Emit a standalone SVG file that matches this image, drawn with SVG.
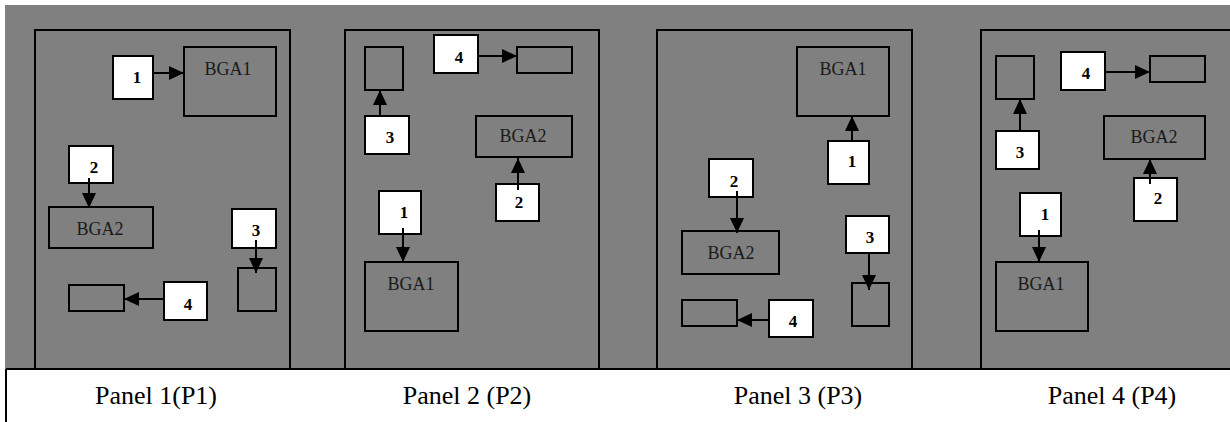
<svg xmlns="http://www.w3.org/2000/svg" width="1230" height="422" viewBox="0 0 1230 422">
<style>
.bg{fill:#808080}
.frame{fill:none;stroke:#000;stroke-width:2}
.comp{fill:none;stroke:#000;stroke-width:2}
.tag{fill:#fff;stroke:#000;stroke-width:2}
.bga{font-family:"Liberation Serif","Times New Roman",serif;font-size:18px;fill:#1a1a1a;text-anchor:middle}
.num{font-family:"Liberation Serif","Times New Roman",serif;font-size:17px;font-weight:bold;fill:#000;text-anchor:middle}
.plabel{font-family:"Liberation Serif","Times New Roman",serif;font-size:26px;fill:#000;text-anchor:middle}
.conn{stroke:#000;stroke-width:2;fill:none;marker-end:url(#arr)}
</style>
<defs>
<marker id="arr" viewBox="0 0 15 14" refX="15" refY="7" markerWidth="15" markerHeight="14" markerUnits="userSpaceOnUse" orient="auto">
<path d="M0,0 L15,7 L0,14 Z" fill="#000"/>
</marker>
</defs>
<rect x="0" y="0" width="1230" height="422" fill="#fff"/>
<rect class="bg" x="5" y="5" width="1225" height="364"/>
<path d="M6,369 H1230 M6,369 V422" stroke="#000" stroke-width="2" fill="none"/>

<!-- Panel 1 -->
<g id="panel1">
<rect class="frame" x="35" y="30" width="255" height="339"/>
<text class="plabel" x="156" y="404">Panel 1(P1)</text>
</g>
<g id="p1-bga1"><rect class="comp" x="184" y="47" width="92" height="69"/><text class="bga" x="228" y="75">BGA1</text></g>
<g id="p1-tag1"><rect class="tag" x="113" y="56" width="40" height="43"/><text class="num" x="137" y="83">1</text></g>
<g id="p1-tag2"><rect class="tag" x="69" y="146" width="44" height="37"/><text class="num" x="94" y="173">2</text></g>
<g id="p1-bga2"><rect class="comp" x="49" y="207" width="104" height="41"/><text class="bga" x="100" y="235">BGA2</text></g>
<g id="p1-tag3"><rect class="tag" x="232" y="209" width="44" height="39"/><text class="num" x="256" y="236">3</text></g>
<g id="p1-comp3"><rect class="comp" x="238" y="268" width="38" height="43"/></g>
<g id="p1-tag4"><rect class="tag" x="164" y="282" width="43" height="38"/><text class="num" x="188" y="310">4</text></g>
<g id="p1-comp4"><rect class="comp" x="69" y="285" width="55" height="26"/></g>

<!-- Panel 2 -->
<g id="panel2">
<rect class="frame" x="345" y="30" width="254" height="339"/>
<text class="plabel" x="467" y="404">Panel 2 (P2)</text>
</g>
<g id="p2-comp3"><rect class="comp" x="365" y="47" width="38" height="43"/></g>
<g id="p2-tag3"><rect class="tag" x="365" y="116" width="44" height="38"/><text class="num" x="390" y="143">3</text></g>
<g id="p2-tag4"><rect class="tag" x="434" y="35" width="44" height="38"/><text class="num" x="459" y="63">4</text></g>
<g id="p2-comp4"><rect class="comp" x="517" y="47" width="55" height="26"/></g>
<g id="p2-bga2"><rect class="comp" x="476" y="116" width="96" height="41"/><text class="bga" x="523" y="142">BGA2</text></g>
<g id="p2-tag2"><rect class="tag" x="496" y="184" width="43" height="37"/><text class="num" x="519" y="208">2</text></g>
<g id="p2-tag1"><rect class="tag" x="379" y="191" width="42" height="43"/><text class="num" x="404" y="218">1</text></g>
<g id="p2-bga1"><rect class="comp" x="365" y="262" width="93" height="69"/><text class="bga" x="411" y="290">BGA1</text></g>

<!-- Panel 3 -->
<g id="panel3">
<rect class="frame" x="657" y="30" width="255" height="339"/>
<text class="plabel" x="798" y="404">Panel 3 (P3)</text>
</g>
<g id="p3-bga1"><rect class="comp" x="797" y="47" width="92" height="69"/><text class="bga" x="843" y="75">BGA1</text></g>
<g id="p3-tag1"><rect class="tag" x="828" y="141" width="41" height="43"/><text class="num" x="852" y="167">1</text></g>
<g id="p3-tag2"><rect class="tag" x="709" y="159" width="44" height="38"/><text class="num" x="734" y="187">2</text></g>
<g id="p3-bga2"><rect class="comp" x="682" y="231" width="97" height="43"/><text class="bga" x="731" y="259">BGA2</text></g>
<g id="p3-tag3"><rect class="tag" x="846" y="216" width="43" height="37"/><text class="num" x="870" y="243">3</text></g>
<g id="p3-comp3"><rect class="comp" x="852" y="283" width="37" height="43"/></g>
<g id="p3-tag4"><rect class="tag" x="769" y="300" width="44" height="37"/><text class="num" x="793" y="327">4</text></g>
<g id="p3-comp4"><rect class="comp" x="682" y="300" width="55" height="26"/></g>

<!-- Panel 4 -->
<g id="panel4">
<rect class="frame" x="981" y="30" width="260" height="339"/>
<text class="plabel" x="1112" y="404">Panel 4 (P4)</text>
</g>
<g id="p4-comp3"><rect class="comp" x="996" y="56" width="38" height="43"/></g>
<g id="p4-tag3"><rect class="tag" x="996" y="131" width="43" height="38"/><text class="num" x="1020" y="158">3</text></g>
<g id="p4-tag4"><rect class="tag" x="1061" y="52" width="44" height="38"/><text class="num" x="1086" y="79">4</text></g>
<g id="p4-comp4"><rect class="comp" x="1150" y="56" width="55" height="26"/></g>
<g id="p4-bga2"><rect class="comp" x="1104" y="116" width="101" height="43"/><text class="bga" x="1154" y="143">BGA2</text></g>
<g id="p4-tag2"><rect class="tag" x="1134" y="178" width="43" height="43"/><text class="num" x="1158" y="204">2</text></g>
<g id="p4-tag1"><rect class="tag" x="1020" y="193" width="41" height="43"/><text class="num" x="1045" y="220">1</text></g>
<g id="p4-bga1"><rect class="comp" x="996" y="262" width="92" height="69"/><text class="bga" x="1041" y="290">BGA1</text></g>

<g id="connectors">
<line class="conn" x1="153" y1="73" x2="184" y2="73"/>
<line class="conn" x1="89" y1="178" x2="89" y2="208"/>
<line class="conn" x1="256" y1="240" x2="256" y2="273"/>
<line class="conn" x1="164" y1="299" x2="124" y2="299"/>

<line class="conn" x1="380" y1="116" x2="380" y2="90"/>
<line class="conn" x1="478" y1="56" x2="517" y2="56"/>
<line class="conn" x1="518" y1="190" x2="518" y2="158"/>
<line class="conn" x1="403" y1="228" x2="403" y2="262"/>

<line class="conn" x1="852" y1="141" x2="852" y2="116"/>
<line class="conn" x1="737" y1="191" x2="737" y2="233"/>
<line class="conn" x1="869" y1="253" x2="869" y2="290"/>
<line class="conn" x1="769" y1="320" x2="737" y2="320"/>

<line class="conn" x1="1020" y1="131" x2="1020" y2="99"/>
<line class="conn" x1="1105" y1="72" x2="1150" y2="72"/>
<line class="conn" x1="1150" y1="184" x2="1150" y2="159"/>
<line class="conn" x1="1039" y1="230" x2="1039" y2="262"/>
</g>
</svg>
